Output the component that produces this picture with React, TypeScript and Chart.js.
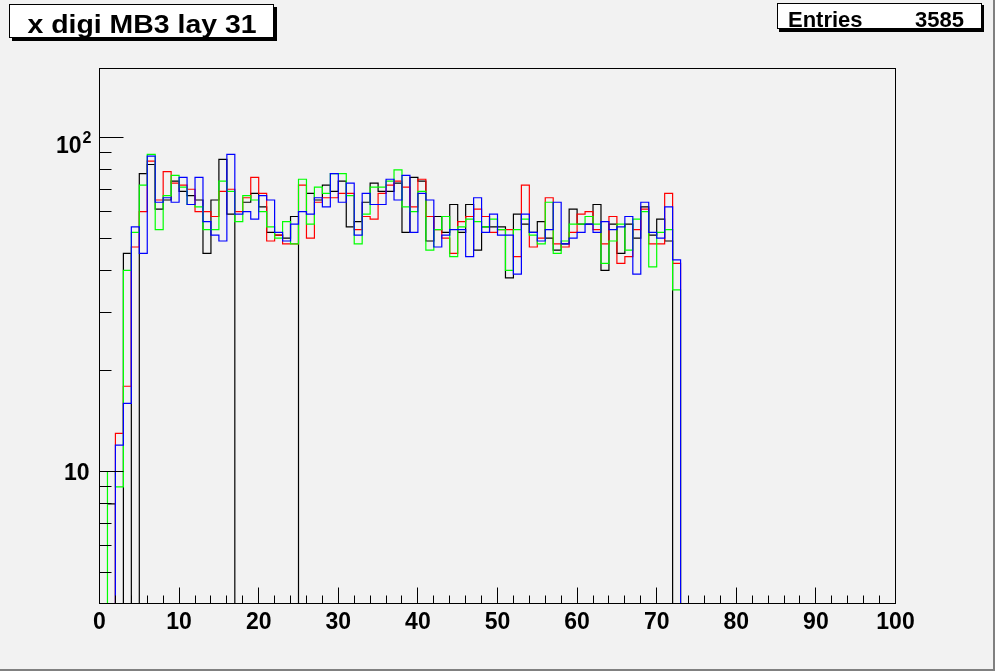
import React, { useEffect, useRef } from 'react';
import { Chart, registerables } from 'chart.js';

Chart.register(...registerables);

// ---- text ----
const TITLE = 'x digi MB3 lay 31';
const STATS_LABEL = 'Entries';
const STATS_VALUE = '3585';

// ---- axes ----
const X_MIN = 0;
const X_MAX = 100;
const N_BINS = 100;
const Y_MIN = 4.026;
const Y_MAX = 160.9;
const X_LABELS = [0, 10, 20, 30, 40, 50, 60, 70, 80, 90, 100];
const X_MINOR_STEP = 2;
const Y_MAJOR = [10, 100];
const Y_MINOR = [5, 6, 7, 8, 9, 20, 30, 40, 50, 60, 70, 80, 90];

// ---- bin contents (bins 0..72, the rest are empty) ----
const blackCounts = [
  0, 8, 2, 45, 2, 78, 83, 61, 65, 74, 69, 67, 65, 45, 65, 86, 59, 0, 64, 68,
  62, 52, 51, 50, 58, 0, 68, 65, 72, 69, 74, 54, 56, 64, 73, 69, 69, 73, 52, 76,
  74, 49, 58, 52, 63, 52, 63, 46, 54, 54, 54, 38, 59, 55, 52, 56, 50, 46, 48, 61,
  55, 55, 63, 40, 55, 45, 55, 50, 62, 51, 57, 49, 0,
];
const redCounts = [
  2, 2, 13, 18, 47, 60, 85, 65, 79, 73, 72, 70, 60, 60, 58, 69, 70, 60, 66, 76,
  68, 49, 51, 48, 48, 72, 50, 64, 66, 66, 68, 68, 53, 58, 57, 68, 72, 74, 71, 62,
  75, 58, 53, 50, 45, 56, 58, 61, 58, 52, 53, 53, 44, 72, 47, 50, 66, 48, 47, 52,
  59, 60, 53, 48, 58, 42, 44, 53, 61, 48, 48, 68, 42,
];
const greenCounts = [
  2, 10, 9, 40, 52, 72, 89, 53, 67, 77, 71, 63, 62, 53, 53, 74, 69, 56, 67, 65,
  60, 54, 50, 56, 48, 75, 55, 71, 68, 78, 78, 67, 48, 59, 71, 71, 74, 80, 62, 60,
  69, 46, 53, 58, 44, 54, 57, 56, 54, 57, 53, 40, 53, 57, 51, 48, 64, 45, 49, 55,
  55, 58, 55, 42, 49, 55, 46, 57, 60, 41, 52, 53, 35,
];
const blueCounts = [
  2, 2, 12, 16, 54, 45, 88, 64, 66, 64, 76, 63, 76, 56, 51, 49, 89, 59, 60, 57,
  67, 65, 52, 49, 55, 60, 59, 66, 62, 78, 64, 73, 51, 68, 63, 63, 75, 65, 77, 52,
  68, 65, 47, 51, 53, 53, 44, 66, 52, 59, 51, 51, 39, 59, 52, 49, 53, 64, 48, 50,
  52, 55, 52, 56, 53, 54, 58, 39, 64, 52, 50, 62, 43,
];

// ROOT-like step outline: empty bins drop to the bottom and break the line
function stepPoints(values: number[]) {
  const pts: { x: number; y: number | null }[] = [];
  let prevFilled = false;
  for (let k = 0; k < N_BINS; k++) {
    const v = k < values.length ? values[k] : 0;
    if (v <= 0) {
      if (prevFilled) {
        pts.push({ x: k, y: Y_MIN });
        pts.push({ x: k, y: null });
      }
      prevFilled = false;
      continue;
    }
    pts.push({ x: k, y: v });
    pts.push({ x: k + 1, y: v });
    prevFilled = true;
  }
  return pts;
}

const FONT = '"Liberation Sans", Arial, Helvetica, sans-serif';

const rootPlugin = {
  id: 'rootStyle',
  beforeDraw(chart: any) {
    const ctx = chart.ctx;
    ctx.save();
    ctx.fillStyle = '#f2f2f2';
    ctx.fillRect(0, 0, chart.width, chart.height);
    ctx.restore();
  },
  afterDatasetsDraw(chart: any) {
    const ctx = chart.ctx;
    const xs = chart.scales.x;
    const ys = chart.scales.y;
    const a = chart.chartArea;
    ctx.save();
    // frame
    ctx.strokeStyle = '#000';
    ctx.lineWidth = 1;
    ctx.strokeRect(a.left, a.top, a.right - a.left, a.bottom - a.top);
    // x ticks
    ctx.beginPath();
    for (let v = X_MIN; v <= X_MAX; v += X_MINOR_STEP) {
      const px = Math.round(xs.getPixelForValue(v) - 0.5) + 0.5;
      const len = v % 10 === 0 ? 16 : 8;
      ctx.moveTo(px, a.bottom);
      ctx.lineTo(px, a.bottom - len);
    }
    // y ticks
    for (const v of Y_MAJOR) {
      const py = Math.round(ys.getPixelForValue(v) - 0.5) + 0.5;
      ctx.moveTo(a.left, py);
      ctx.lineTo(a.left + 24, py);
    }
    for (const v of Y_MINOR) {
      const py = Math.round(ys.getPixelForValue(v) - 0.5) + 0.5;
      ctx.moveTo(a.left, py);
      ctx.lineTo(a.left + 12, py);
    }
    ctx.stroke();

    // x labels
    ctx.fillStyle = '#000';
    ctx.font = `bold 23px ${FONT}`;
    ctx.textAlign = 'center';
    ctx.textBaseline = 'alphabetic';
    for (const v of X_LABELS) {
      ctx.fillText(String(v), xs.getPixelForValue(v), a.bottom + 25);
    }
    // y labels
    ctx.textAlign = 'right';
    const p10 = ys.getPixelForValue(Y_MAJOR[0]);
    ctx.fillText('10', a.left - 10, p10 + 8.5);
    const p100 = ys.getPixelForValue(Y_MAJOR[1]);
    ctx.fillText('10', a.left - 18, p100 + 16);
    ctx.textAlign = 'left';
    ctx.font = `bold 16px ${FONT}`;
    ctx.fillText('2', a.left - 17, p100 + 6);

    // title box
    ctx.fillStyle = '#000';
    ctx.fillRect(12, 38, 265, 3);
    ctx.fillRect(274, 7, 3, 34);
    ctx.fillStyle = '#fff';
    ctx.fillRect(9, 4, 265, 34);
    ctx.strokeRect(9.5, 4.5, 264, 33);
    ctx.fillStyle = '#000';
    ctx.font = `bold 26px ${FONT}`;
    const tw = ctx.measureText(TITLE).width;
    ctx.save();
    ctx.translate(27.5, 32.5);
    ctx.scale(229 / tw, 1);
    ctx.fillText(TITLE, 0, 0);
    ctx.restore();

    // stats box
    ctx.fillStyle = '#000';
    ctx.fillRect(779, 29, 205, 3);
    ctx.fillRect(981, 5, 3, 27);
    ctx.fillStyle = '#fff';
    ctx.fillRect(777, 3, 205, 26);
    ctx.strokeRect(777.5, 3.5, 204, 25);
    ctx.fillStyle = '#000';
    ctx.font = `bold 22px ${FONT}`;
    ctx.textAlign = 'left';
    ctx.fillText(STATS_LABEL, 788, 26.5);
    ctx.textAlign = 'right';
    ctx.fillText(STATS_VALUE, 964, 26.5);

    // outer pad border
    ctx.fillStyle = '#808080';
    ctx.fillRect(chart.width - 2, 0, 2, chart.height);
    ctx.fillRect(0, chart.height - 2, chart.width, 2);
    ctx.restore();
  },
};

export default function App() {
  const ref = useRef<HTMLCanvasElement | null>(null);
  useEffect(() => {
    document.body.style.margin = '0';
    const canvas = ref.current;
    if (!canvas) return;
    const mk = (label: string, vals: number[], color: string) => ({
      label,
      data: stepPoints(vals),
      borderColor: color,
      backgroundColor: color,
      borderWidth: 1.2,
      pointRadius: 0,
      fill: false,
      tension: 0,
      spanGaps: false,
    });
    const chart = new Chart(canvas, {
      type: 'line',
      data: {
        datasets: [
          mk('blue', blueCounts, '#0000ff'),
          mk('green', greenCounts, '#00ff00'),
          mk('red', redCounts, '#ff0000'),
          mk('black', blackCounts, '#000000'),
        ],
      },
      options: {
        animation: false,
        responsive: false,
        maintainAspectRatio: false,
        devicePixelRatio: 1,
        layout: { padding: { left: 99.5, right: 99.5, top: 68.5, bottom: 67.5 } },
        plugins: {
          legend: { display: false },
          tooltip: { enabled: false },
          title: { display: false },
        },
        scales: {
          x: { type: 'linear', min: X_MIN, max: X_MAX, display: false },
          y: { type: 'logarithmic', min: Y_MIN, max: Y_MAX, display: false, bounds: 'data' },
        },
      } as any,
      plugins: [rootPlugin],
    });
    return () => chart.destroy();
  }, []);
  return (
    <div style={{ width: 995, height: 671 }}>
      <canvas ref={ref} width={995} height={671} style={{ display: 'block', width: 995, height: 671 }} />
    </div>
  );
}
